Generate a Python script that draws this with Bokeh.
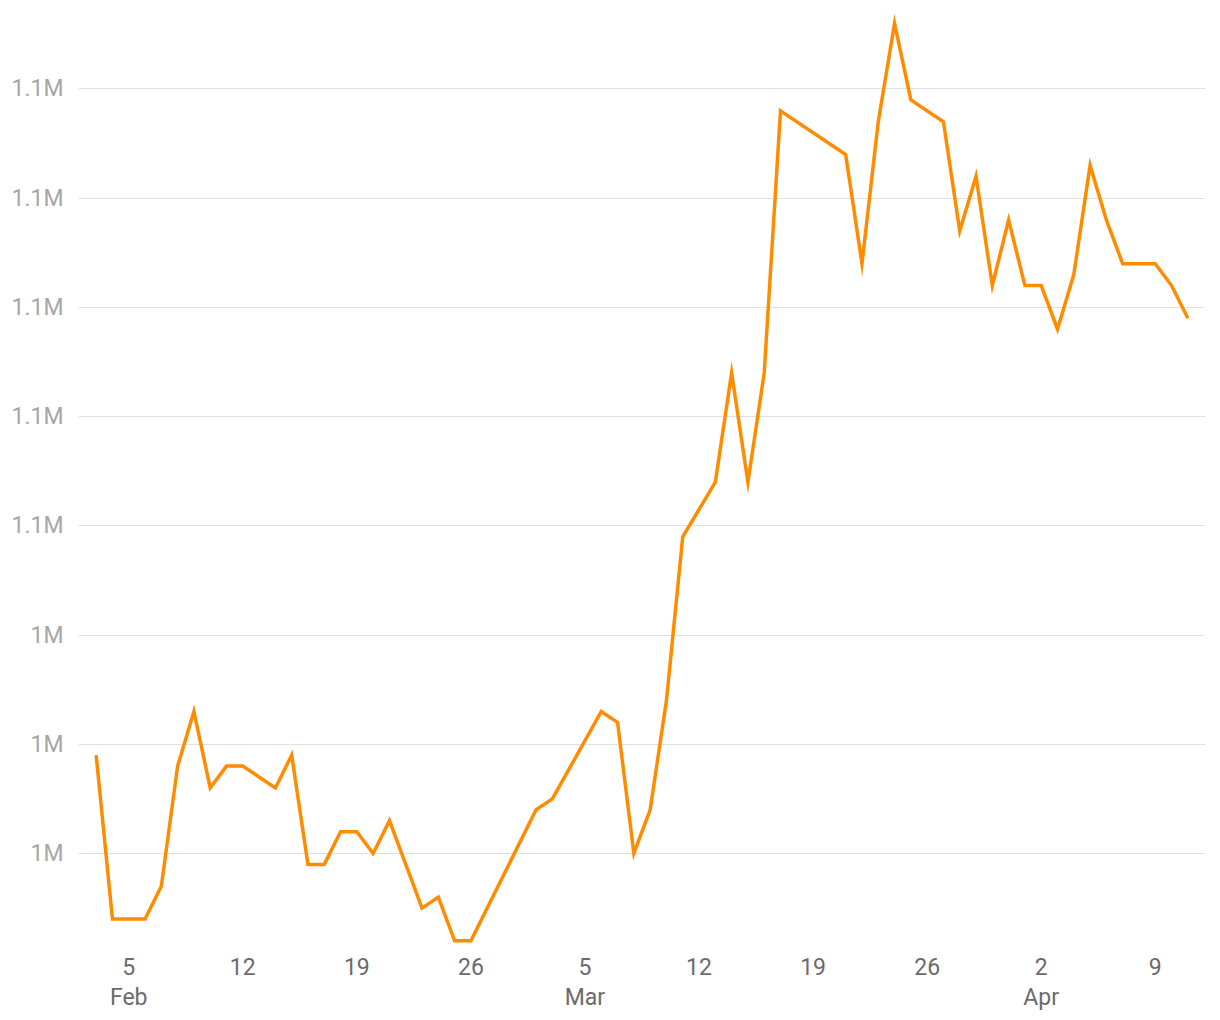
import pandas as pd
from bokeh.plotting import figure
from bokeh.models import (ColumnDataSource, FixedTicker, CustomJSTickFormatter,
                          Range1d, DatetimeAxis)
from bokeh.embed import file_html
from bokeh.resources import INLINE

# ---- data ----
dates = [
    "2023-02-03", "2023-02-04", "2023-02-05", "2023-02-06", "2023-02-07",
    "2023-02-08", "2023-02-09", "2023-02-10", "2023-02-11", "2023-02-12",
    "2023-02-14", "2023-02-15", "2023-02-16", "2023-02-17", "2023-02-18",
    "2023-02-19", "2023-02-20", "2023-02-21", "2023-02-23", "2023-02-24",
    "2023-02-25", "2023-02-26", "2023-03-02", "2023-03-03", "2023-03-06",
    "2023-03-07", "2023-03-08", "2023-03-09", "2023-03-10", "2023-03-11",
    "2023-03-13", "2023-03-14", "2023-03-15", "2023-03-16", "2023-03-17",
    "2023-03-21", "2023-03-22", "2023-03-23", "2023-03-24", "2023-03-25",
    "2023-03-27", "2023-03-28", "2023-03-29", "2023-03-30", "2023-03-31",
    "2023-04-01", "2023-04-02", "2023-04-03", "2023-04-04", "2023-04-05",
    "2023-04-06", "2023-04-07", "2023-04-08", "2023-04-09", "2023-04-10",
    "2023-04-11",
]
values = [
    1029000, 1014000, 1014000, 1014000, 1017000,
    1028000, 1033000, 1026000, 1028000, 1028000,
    1026000, 1029000, 1019000, 1019000, 1022000,
    1022000, 1020000, 1023000, 1015000, 1016000,
    1012000, 1012000, 1024000, 1025000, 1033000,
    1032000, 1020000, 1024000, 1034000, 1049000,
    1054000, 1064000, 1054000, 1064000, 1088000,
    1084000, 1074000, 1087000, 1096000, 1089000,
    1087000, 1077000, 1082000, 1072000, 1078000,
    1072000, 1072000, 1068000, 1073000, 1083000,
    1078000, 1074000, 1074000, 1074000, 1072000,
    1069000,
]
day_ticks = ["2023-02-05", "2023-02-12", "2023-02-19", "2023-02-26", "2023-03-05",
             "2023-03-12", "2023-03-19", "2023-03-26", "2023-04-02", "2023-04-09"]
month_ticks = ["2023-02-05", "2023-03-05", "2023-04-02"]
y_ticks = [1020000, 1030000, 1040000, 1050000, 1060000, 1070000, 1080000, 1090000]

def ms(d):
    return pd.Timestamp(d).value / 1e6

src = ColumnDataSource(dict(x=pd.to_datetime(dates), y=values))

pad = pd.Timedelta(hours=26)
x_start = pd.Timestamp(dates[0]) - pad
x_end = pd.Timestamp(dates[-1]) + pad

p = figure(width=1212, height=1013, output_backend="svg", toolbar_location=None,
           x_axis_type="datetime",
           x_range=Range1d(x_start, x_end),
           y_range=Range1d(1011300, 1097000),
           min_border_left=78, min_border_right=7, min_border_top=12,
           min_border_bottom=64)
p.outline_line_color = None
p.background_fill_color = "white"
p.border_fill_color = "white"

p.line("x", "y", source=src, line_color="#FF8C00", line_width=3.5,
       line_join="miter")

# grid
p.xgrid.grid_line_color = None
p.ygrid.grid_line_color = "#e0e0e0"
p.ygrid.grid_line_width = 1
p.ygrid.ticker = FixedTicker(ticks=y_ticks)

FONT = "Roboto"

# y axis
ya = p.yaxis[0]
ya.ticker = FixedTicker(ticks=y_ticks)
ya.formatter = CustomJSTickFormatter(code="""
    const v = Math.round(tick / 1e5) / 10;
    return v + "M";
""")
ya.axis_line_color = None
ya.major_tick_line_color = None
ya.minor_tick_line_color = None
ya.major_label_standoff = 9
ya.major_label_text_font = FONT
ya.major_label_text_font_size = "23px"
ya.major_label_text_color = "#a6a6a6"

# x axis: day numbers
xa = p.xaxis[0]
xa.ticker = FixedTicker(ticks=[ms(d) for d in day_ticks])
xa.formatter = CustomJSTickFormatter(code="""
    return String(new Date(tick).getUTCDate());
""")
xa.axis_line_color = None
xa.major_tick_line_color = None
xa.minor_tick_line_color = None
xa.major_label_standoff = 3
xa.major_label_text_font = FONT
xa.major_label_text_font_size = "23px"
xa.major_label_text_color = "#6b6b6b"

# x axis: month names
xm = DatetimeAxis()
xm.ticker = FixedTicker(ticks=[ms(d) for d in month_ticks])
xm.formatter = CustomJSTickFormatter(code="""
    const m = ["Jan","Feb","Mar","Apr","May","Jun","Jul","Aug","Sep","Oct","Nov","Dec"];
    return m[new Date(tick).getUTCMonth()];
""")
xm.axis_line_color = None
xm.major_tick_line_color = None
xm.minor_tick_line_color = None
xm.major_label_standoff = 0
xm.major_label_text_font = FONT
xm.major_label_text_font_size = "23px"
xm.major_label_text_color = "#6b6b6b"
p.add_layout(xm, "below")

open("out.html", "w").write(file_html(p, INLINE))
